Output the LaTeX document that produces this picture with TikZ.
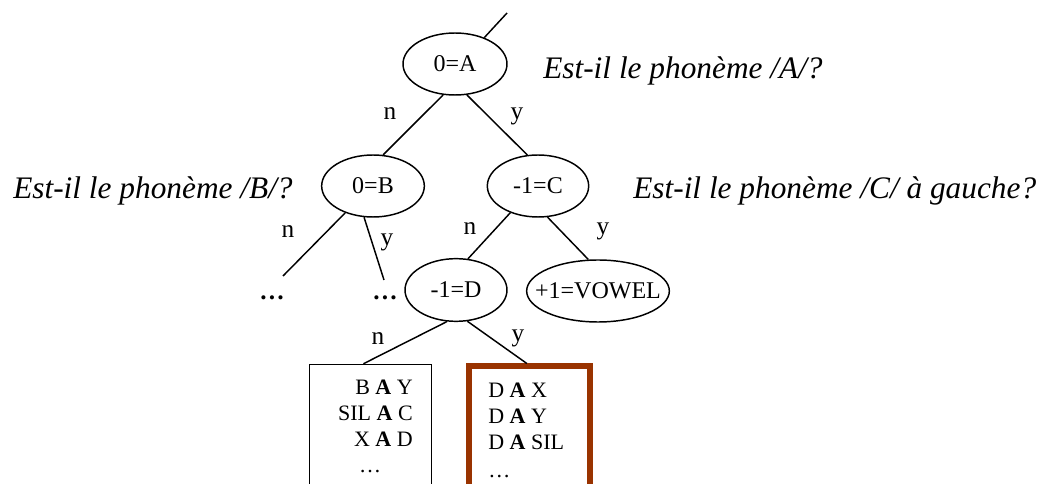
\documentclass[tikz,border=0pt]{standalone}
\usepackage{fontspec}
\setmainfont{Liberation Serif}
\usetikzlibrary{shapes.geometric}

\definecolor{leafbrown}{HTML}{993300}

\tikzstyle{test} = [ellipse, draw, line width=1.1pt, inner sep=0pt, minimum width=78pt, minimum height=46.5pt, font=\fontsize{18}{18}\selectfont]
\tikzstyle{branch} = [line width=1.1pt]
\tikzstyle{answer} = [anchor=base, inner sep=0pt, font=\fontsize{19}{19}\selectfont]
\tikzstyle{question} = [anchor=base west, inner sep=0pt, font=\fontsize{23.5}{23.5}\itshape]
\tikzstyle{leaf} = [draw, line width=1.1pt, inner sep=0pt, minimum width=91.5pt, minimum height=120pt]
\tikzstyle{row} = [inner sep=0pt, font=\fontsize{16.5}{16.5}\selectfont]
\tikzstyle{more} = [anchor=base, inner sep=0pt, font=\fontsize{19}{19}\selectfont\bfseries]

\begin{document}
\begin{tikzpicture}[x=0.75pt, y=-0.75pt]
      \useasboundingbox (0,0) rectangle (1047,484);
      % questions
      \node[test] (a) at (455,64) {0=A};
      \node[test, minimum width=77pt] (b) at (373,186) {0=B};
      \node[test, minimum width=76pt] (c) at (538,186) {-1=C};
      \node[test, minimum width=76.5pt, minimum height=47pt] (d) at (456,290) {-1=D};
      \node[test, minimum width=107pt] (v) at (598,291) {\makebox[0pt]{+1=VOWEL}};
      \node[question] (qa) at (543,79) {Est-il le phonème /A/?};
      \node[question] (qb) at (13,199) {Est-il le phonème /B/?};
      \node[question] (qc) at (633,199) {Est-il le phonème /C/ à gauche?};
      % leaves
      \node[leaf] (lbox) at (370.5,444.5) {};
      \node[leaf, draw=leafbrown, line width=4.5pt, minimum width=91.1pt] (rbox) at (529.75,446.5) {};
      \node[row, anchor=base east] (l1) at (413,395) {B \textbf{A} Y};
      \node[row, anchor=base east] (l2) at (413,421) {SIL \textbf{A} C};
      \node[row, anchor=base east] (l3) at (413,447) {X \textbf{A} D};
      \node[row, anchor=base] (l4) at (370,473) {…};
      \node[row, anchor=base west] (r1) at (488,398) {D \textbf{A} X};
      \node[row, anchor=base west] (r2) at (488,424) {D \textbf{A} Y};
      \node[row, anchor=base west] (r3) at (488,450) {D \textbf{A} SIL};
      \node[row, anchor=base west] (r4) at (488,478) {…};
      \node[more] (bnd) at (272,300) {…};
      \node[more] (byd) at (385,300) {…};
      \coordinate (root) at (507,13);
      \coordinate (bn) at (283,276);
      \coordinate (by) at (384,280);
      % branches
      \draw[branch] (a.42) -- (root);
      \draw[branch] (a.249) -- (b.72);
      \draw[branch] (a.291) -- (c.109);
      \draw[branch] (b.224) -- (bn);
      \draw[branch] (b.254) -- (by);
      \draw[branch] (c.224) -- (d.69);
      \draw[branch] (c.287) -- (v.107);
      \draw[branch] (d.254) -- (lbox.95);
      \draw[branch] (d.290) -- (rbox.92);
      \node[answer] at (390,120) {n};
      \node[answer] at (517,120) {y};
      \node[answer] at (288,238) {n};
      \node[answer] at (387,246) {y};
      \node[answer] at (470,235) {n};
      \node[answer] at (603,235) {y};
      \node[answer] at (378,345) {n};
      \node[answer] at (518,342) {y};
    \end{tikzpicture}
\end{document}
